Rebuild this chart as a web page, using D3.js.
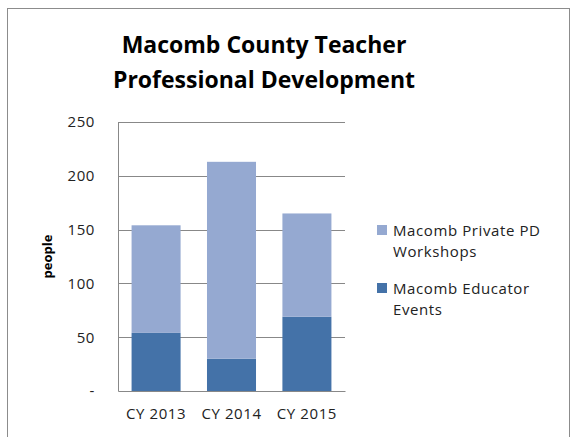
<!DOCTYPE html>
<html>
<head>
<meta charset="utf-8">
<script src="https://cdn.jsdelivr.net/npm/d3@7"></script>
<style>
  body { margin: 0; background: #fff; }
  svg { font-family: "Open Sans", "Noto Sans", sans-serif; }
</style>
</head>
<body>
<div id="container"></div>
<script>
/* DATA */
const years = ["CY 2013", "CY 2014", "CY 2015"]
const educatorEvents = [54, 30, 69]
const privateWorkshops = [100, 183, 96]
const yTicks = [0, 50, 100, 150, 200, 250]
const seriesNames = ["Macomb Educator Events", "Macomb Private PD Workshops"]

/* CONSTANTS */
const width = 571, height = 437
const margin = { top: 122, bottom: 46, left: 118, right: 226 }
const colors = ["#4472a8", "#95a9d1"]

const svg = d3.select("#container")
  .append("svg")
  .attr("width", width)
  .attr("height", height)

// chart frame
svg.append("rect")
  .attr("x", 7.5).attr("y", 8.5)
  .attr("width", 562).attr("height", 440)
  .attr("fill", "none")
  .attr("stroke", "#8c8c8c")

// SCALES
const xScale = d3.scaleBand()
  .domain(years)
  .range([margin.left, width - margin.right])
  .paddingInner(0.35)
  .paddingOuter(0.18)

const yScale = d3.scaleLinear()
  .domain([0, 250])
  .range([height - margin.bottom, margin.top])

// gridlines
svg.append("g")
  .selectAll("line")
  .data(yTicks.slice(1))
  .join("line")
  .attr("x1", margin.left)
  .attr("x2", width - margin.right)
  .attr("y1", d => Math.round(yScale(d)) + 0.5)
  .attr("y2", d => Math.round(yScale(d)) + 0.5)
  .attr("stroke", "#888")

// STACKED BARS
const table = years.map((y, i) => ({ year: y, educator: educatorEvents[i], priv: privateWorkshops[i] }))
const stacked = d3.stack().keys(["educator", "priv"])(table)

svg.append("g")
  .selectAll("g")
  .data(stacked)
  .join("g")
  .attr("fill", (d, i) => colors[i])
  .selectAll("rect")
  .data(d => d)
  .join("rect")
  .attr("x", d => xScale(d.data.year))
  .attr("width", xScale.bandwidth())
  .attr("y", d => yScale(d[1]))
  .attr("height", d => yScale(d[0]) - yScale(d[1]))

// AXES
const yAxis = d3.axisLeft(yScale)
  .tickValues(yTicks)
  .tickSize(0)
  .tickPadding(23)
  .tickFormat(d => d === 0 ? "-" : d)

svg.append("g")
  .attr("transform", `translate(${margin.left}, 0)`)
  .call(yAxis)
  .attr("font-family", null)
  .attr("font-size", 15)
  .call(g => g.select(".domain").attr("stroke", "#888"))
  .call(g => g.selectAll("text").attr("fill", "#222").attr("letter-spacing", 0.6))

const xAxis = d3.axisBottom(xScale).tickSize(0).tickPadding(17)

svg.append("g")
  .attr("transform", `translate(0, ${height - margin.bottom})`)
  .call(xAxis)
  .attr("font-family", null)
  .attr("font-size", 15)
  .call(g => g.select(".domain").attr("stroke", "#888"))
  .call(g => g.selectAll("text").attr("fill", "#222").attr("letter-spacing", 0.6))

// y label
svg.append("text")
  .attr("transform", `translate(52, ${yScale(125)}) rotate(-90)`)
  .attr("text-anchor", "middle")
  .attr("font-size", 13)
  .attr("font-weight", "bold")
  .text("people")

// TITLE
svg.append("text")
  .attr("x", 264).attr("y", 53)
  .attr("text-anchor", "middle")
  .attr("font-size", 23)
  .attr("font-weight", "bold")
  .selectAll("tspan")
  .data(["Macomb County Teacher", "Professional Development"])
  .join("tspan")
  .attr("x", 264)
  .attr("dy", (d, i) => i === 0 ? 0 : 35)
  .text(d => d)

// LEGEND
const legendItems = [
  { lines: ["Macomb Private PD", "Workshops"], color: colors[1], y: 225 },
  { lines: ["Macomb Educator", "Events"], color: colors[0], y: 283 }
]
const legend = svg.append("g")
  .selectAll("g")
  .data(legendItems)
  .join("g")
  .attr("transform", d => `translate(377, ${d.y})`)

legend.append("rect")
  .attr("width", 10).attr("height", 10)
  .attr("fill", d => d.color)

legend.append("text")
  .attr("font-size", 15)
  .attr("letter-spacing", 0.6)
  .attr("fill", "#222")
  .selectAll("tspan")
  .data(d => d.lines)
  .join("tspan")
  .attr("x", 16)
  .attr("y", (d, i) => 11 + i * 21)
  .text(d => d)
</script>
</body>
</html>
